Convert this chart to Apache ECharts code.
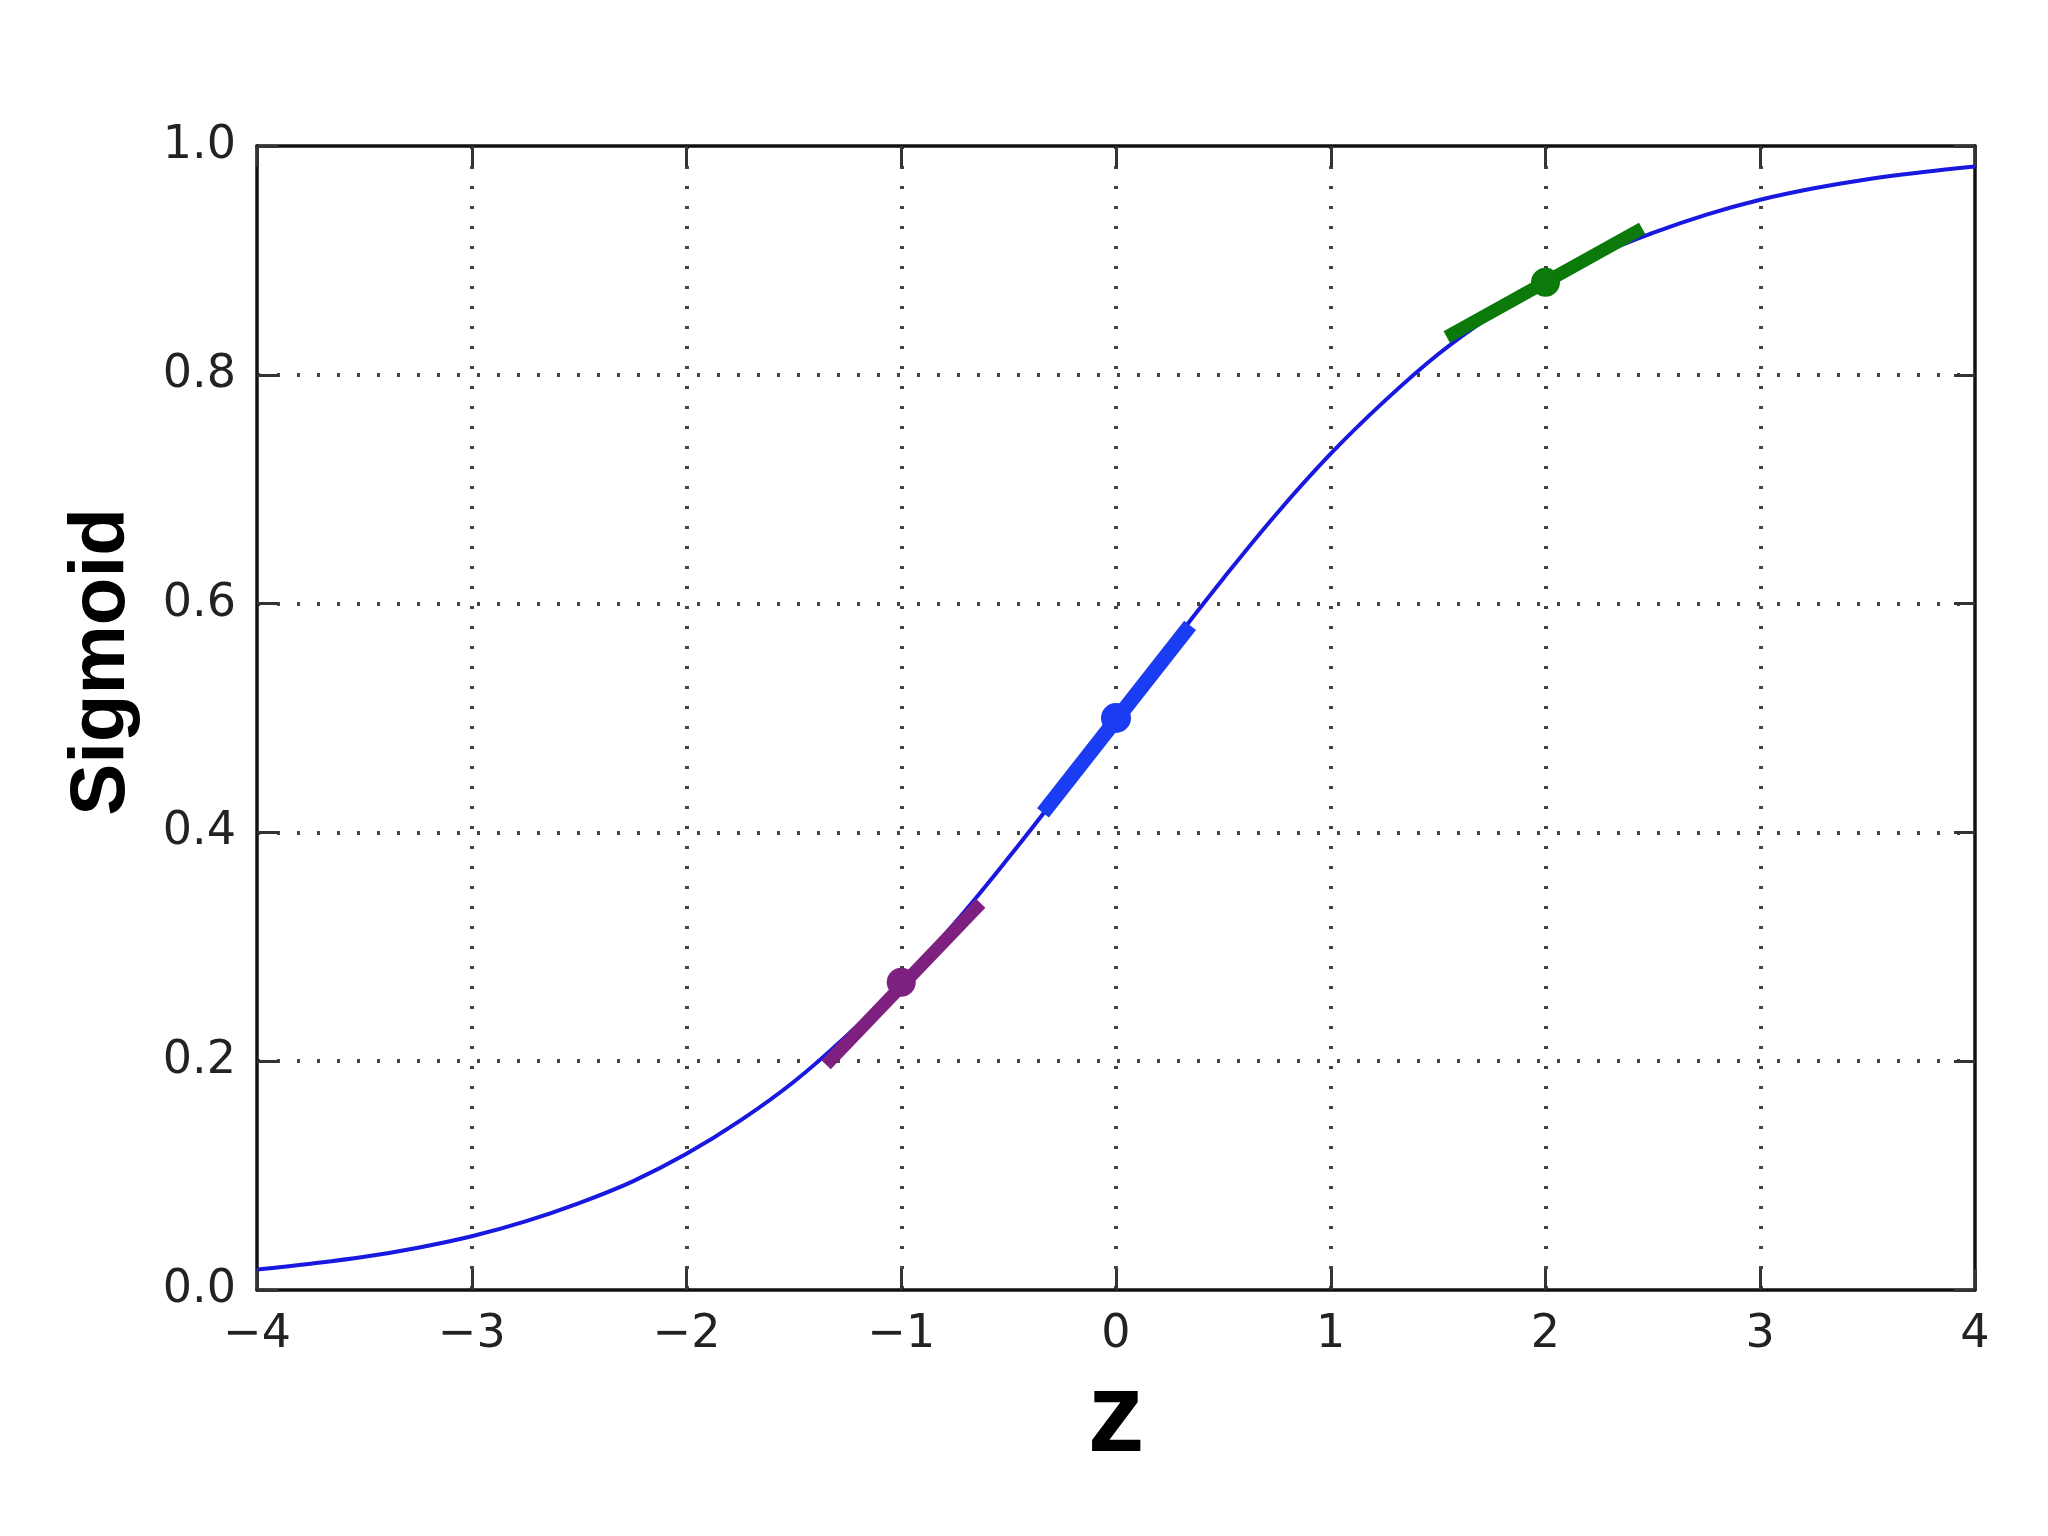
<!DOCTYPE html>
<html>
<head>
<meta charset="utf-8">
<script src="https://cdn.jsdelivr.net/npm/echarts@6/dist/echarts.min.js"></script>
<style>
html,body{margin:0;padding:0;background:#fff;}
#chart{width:2048px;height:1536px;}
</style>
</head>
<body>
<div id="chart"></div>
<script>
// Curve points (z, sigmoid)
const zValues = [-4,-3.75,-3.5,-3.25,-3,-2.75,-2.5,-2.25,-2,-1.75,-1.5,-1.25,-1,-0.75,-0.5,-0.25,0,0.25,0.5,0.75,1,1.25,1.5,1.75,2,2.25,2.5,2.75,3,3.25,3.5,3.75,4];
const sigmoidValues = [0.018,0.023,0.029,0.037,0.047,0.060,0.076,0.095,0.119,0.148,0.182,0.223,0.269,0.321,0.378,0.438,0.500,0.562,0.622,0.679,0.731,0.777,0.818,0.852,0.881,0.905,0.924,0.940,0.953,0.963,0.971,0.977,0.982];

// Tangent segments (start/end points)
const purpleTangent = [[-1.35,0.197],[-0.63,0.338]];
const blueTangent = [[-0.34,0.417],[0.345,0.581]];
const greenTangent = [[1.54,0.833],[2.45,0.928]];

// Highlighted points
const purplePoint = [[-1,0.269]];
const bluePoint = [[0,0.5]];
const greenPoint = [[2,0.881]];

// Tick labels
const xTickLabels = {'-4':'\u22124','-3':'\u22123','-2':'\u22122','-1':'\u22121','0':'0','1':'1','2':'2','3':'3','4':'4'};
const yTickLabels = {'0':'0.0','0.2':'0.2','0.4':'0.4','0.6':'0.6','0.8':'0.8','1':'1.0'};

const curveData = zValues.map((z,i)=>[z, sigmoidValues[i]]);

const gridLine = {show:true, showMinLine:false, showMaxLine:false, lineStyle:{color:'#444', width:4, type:[3,17]}};
const axisLineStyle = {show:true, onZero:false, lineStyle:{color:'#111', width:3.5}};
const tick = {show:true, inside:true, length:21, lineStyle:{color:'#333', width:3}};

const chart = echarts.init(document.getElementById('chart'));
chart.setOption({
  backgroundColor:'#ffffff',
  animation:false,
  grid:{left:257, right:73, top:146, bottom:246, containLabel:false},
  xAxis:[{
    type:'value', min:-4, max:4, interval:1, position:'bottom',
    axisLine:axisLineStyle, axisTick:tick, splitLine:gridLine,
    axisLabel:{show:true, margin:22, fontFamily:'DejaVu Sans', fontSize:46, color:'#222',
      formatter:v=>xTickLabels[String(v)] ?? String(v)},
    name:'z', nameLocation:'middle', nameGap:62,
    nameTextStyle:{fontFamily:'Liberation Sans', fontWeight:'bold', fontSize:114, color:'#000'}
  },{
    type:'value', min:-4, max:4, interval:1, position:'top',
    axisLine:axisLineStyle, axisTick:tick, splitLine:{show:false}, axisLabel:{show:false}
  }],
  yAxis:[{
    type:'value', min:0, max:1, interval:0.2, position:'left',
    axisLine:axisLineStyle, axisTick:tick, splitLine:gridLine,
    axisLabel:{show:true, margin:21, fontFamily:'DejaVu Sans', fontSize:46, color:'#222',
      formatter:v=>yTickLabels[String(+v.toFixed(1))] ?? String(v)},
    name:'Sigmoid', nameLocation:'middle', nameGap:116, nameRotate:90,
    nameTextStyle:{fontFamily:'Liberation Sans', fontWeight:'bold', fontSize:78, color:'#000', padding:[0,0,0,112]}
  },{
    type:'value', min:0, max:1, interval:0.2, position:'right',
    axisLine:axisLineStyle, axisTick:tick, splitLine:{show:false}, axisLabel:{show:false}
  }],
  series:[
    {type:'line', data:curveData, smooth:0.4, symbol:'none', z:2,
      lineStyle:{color:'#1818e0', width:4}},
    {type:'line', data:purpleTangent, symbol:'none', z:3,
      lineStyle:{color:'#7d2080', width:13, cap:'butt'}},
    {type:'line', data:blueTangent, symbol:'none', z:3,
      lineStyle:{color:'#1a3cf2', width:15, cap:'butt'}},
    {type:'line', data:greenTangent, symbol:'none', z:3,
      lineStyle:{color:'#0b7a0b', width:13, cap:'butt'}},
    {type:'scatter', data:purplePoint, symbol:'circle', symbolSize:29, z:4,
      itemStyle:{color:'#7d2080', opacity:1}},
    {type:'scatter', data:bluePoint, symbol:'circle', symbolSize:30, z:4,
      itemStyle:{color:'#1a3cf2', opacity:1}},
    {type:'scatter', data:greenPoint, symbol:'circle', symbolSize:29, z:4,
      itemStyle:{color:'#0b7a0b', opacity:1}}
  ]
});
</script>
</body>
</html>
